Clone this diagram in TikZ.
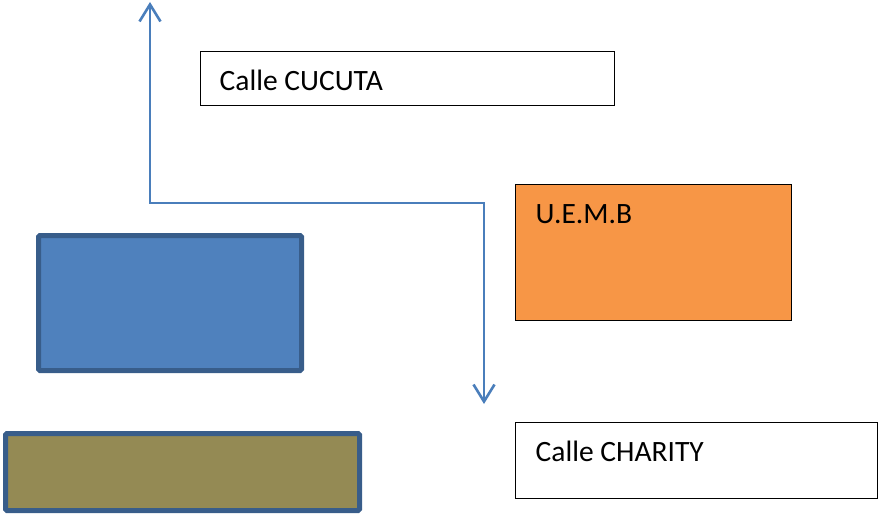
\documentclass[tikz,border=0pt]{standalone}
\usepackage{fontspec}
\setmainfont{Carlito}
\usetikzlibrary{arrows.meta}

\definecolor{routeblue}{HTML}{4A7EBB}
\definecolor{blockfill}{HTML}{4F81BD}
\definecolor{blockline}{HTML}{385D8A}
\definecolor{olivefill}{HTML}{948A54}
\definecolor{uembfill}{HTML}{F79646}

\tikzset{
  street/.style={draw=black, line width=1.2pt, fill=white, anchor=north west, inner sep=0pt, outer sep=0pt},
  blockrect/.style={draw=blockline, line width=5pt, rounded corners=1.5pt, anchor=north west, inner sep=0pt, outer sep=0pt},
  lbl/.style={anchor=base west, inner sep=0pt, font=\fontsize{29.5}{35}\selectfont},
  route/.style={draw=routeblue, line width=2.6pt,
    {Straight Barb[length=17pt,width=21pt]}-{Straight Barb[length=17pt,width=21pt]}}
}

\begin{document}
\begin{tikzpicture}[x=1pt, y=-1pt]
%
    \useasboundingbox (0,0) rectangle (879,514);
%
    \node[street, minimum width=414pt, minimum height=54pt] (cucuta) at (200.5,51.5) {};
    \node[lbl] (cucutatxt) at ([shift={(19,39)}]cucuta.north west) {Calle CUCUTA};

    \node[street, fill=uembfill, minimum width=276pt, minimum height=136pt] (uemb) at (515.5,184.5) {};
    \node[lbl] (uembtxt) at ([shift={(20,39)}]uemb.north west) {U.E.M.B};

    \node[street, minimum width=362pt, minimum height=76pt] (charity) at (515.5,422.5) {};
    \node[lbl] (charitytxt) at ([shift={(20,39)}]charity.north west) {Calle CHARITY};
%
    \node[blockrect, fill=blockfill, minimum width=263pt, minimum height=135pt] (blueblock) at (38.5,235.5) {};
    \node[blockrect, fill=olivefill, minimum width=354pt, minimum height=77pt] (oliveblock) at (5.5,433.5) {};
%
    \node[coordinate] (north) at (150,2) {};
    \node[coordinate] (bend) at (484,203) {};
    \node[coordinate] (south) at (484,404) {};
    \draw[route] (north) |- (bend) -- (south);
  \end{tikzpicture}
\end{document}
